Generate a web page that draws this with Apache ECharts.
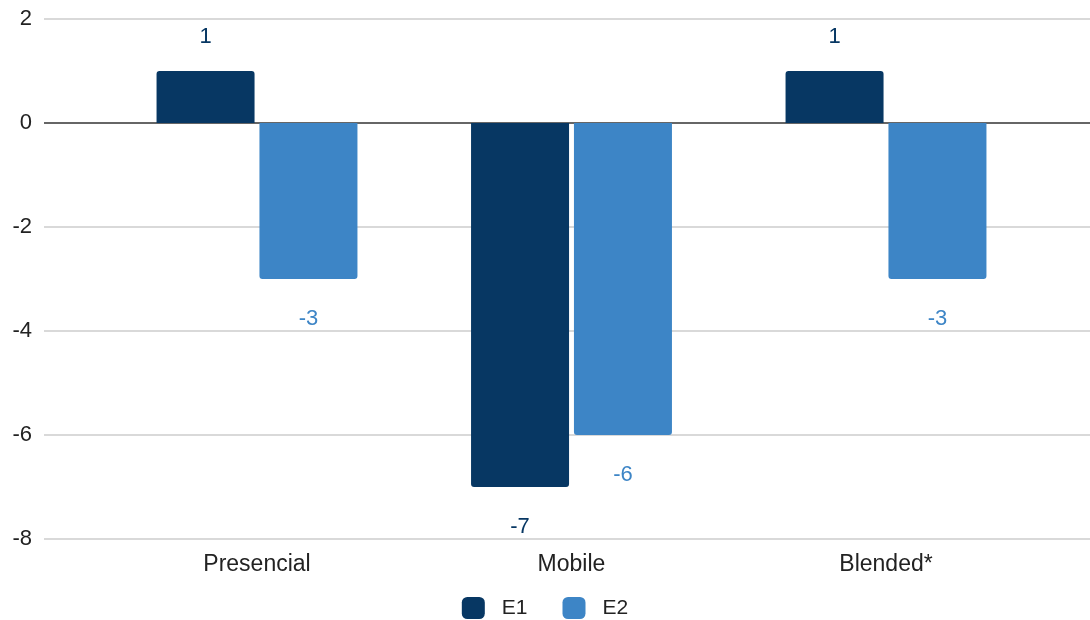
<!DOCTYPE html>
<html>
<head>
<meta charset="utf-8">
<script src="https://cdn.jsdelivr.net/npm/echarts@6/dist/echarts.min.js"></script>
<style>
  html, body { margin: 0; padding: 0; background: #fff; }
  #chart { width: 1090px; height: 620px; }
</style>
</head>
<body>
<div id="chart"></div>
<script>
var categories = ["Presencial", "Mobile", "Blended*"];
var seriesNames = ["E1", "E2"];
var e1Values = [1, -7, 1];
var e2Values = [-3, -6, -3];
var yTicks = [-8, -6, -4, -2, 0, 2];

var colors = ["#073763", "#3d85c6"];

// each bar gets its rounded side and label on the side away from zero
function toItems(values) {
  return values.map(function (v) {
    return {
      value: v,
      itemStyle: { borderRadius: v >= 0 ? [3, 3, 0, 0] : [0, 0, 3, 3] },
      label: { position: v >= 0 ? "top" : "bottom", distance: v >= 0 ? 23 : 29 }
    };
  });
}

var chart = echarts.init(document.getElementById("chart"));

var option = {
  animation: false,
  textStyle: { fontFamily: "Liberation Sans" },
  legend: {
    data: seriesNames,
    top: 592,
    left: "center",
    itemWidth: 23,
    itemHeight: 22,
    itemGap: 35,
    icon: "roundRect",
    textStyle: { fontSize: 21, color: "#222", padding: [0, 0, 0, 12] }
  },
  grid: [
    // wide grid, only for the horizontal lines and tick labels
    { left: 44, right: 0, top: 19, bottom: 81 },
    // inner grid for the bars
    { left: 99.75, right: 46.75, top: 19, bottom: 81 }
  ],
  xAxis: [
    { type: "value", gridIndex: 0, show: false, min: 0, max: 1 },
    {
      type: "category",
      gridIndex: 1,
      data: categories,
      axisLine: { show: false },
      axisTick: { show: false },
      axisLabel: { fontSize: 23, color: "#222", margin: 14 }
    }
  ],
  yAxis: [
    {
      type: "value",
      gridIndex: 0,
      min: yTicks[0],
      max: yTicks[yTicks.length - 1],
      interval: 2,
      axisLine: { show: false },
      axisTick: { show: false },
      axisLabel: { fontSize: 22, color: "#222", margin: 12, padding: [6, 0, 0, 0] },
      splitLine: {
        lineStyle: {
          width: 1.5,
          color: yTicks.map(function (t) { return t === 0 ? "#333" : "#cccccc"; })
        }
      }
    },
    {
      type: "value",
      gridIndex: 1,
      min: yTicks[0],
      max: yTicks[yTicks.length - 1],
      interval: 2,
      show: false
    }
  ],
  series: [
    {
      name: seriesNames[0],
      type: "bar",
      xAxisIndex: 1,
      yAxisIndex: 1,
      barWidth: 98,
      barGap: "5%",
      itemStyle: { color: colors[0] },
      label: { show: true, fontSize: 22, color: colors[0] },
      data: toItems(e1Values)
    },
    {
      name: seriesNames[1],
      type: "bar",
      xAxisIndex: 1,
      yAxisIndex: 1,
      barWidth: 98,
      barGap: "5%",
      itemStyle: { color: colors[1] },
      label: { show: true, fontSize: 22, color: colors[1] },
      data: toItems(e2Values)
    }
  ]
};

chart.setOption(option);
</script>
</body>
</html>
